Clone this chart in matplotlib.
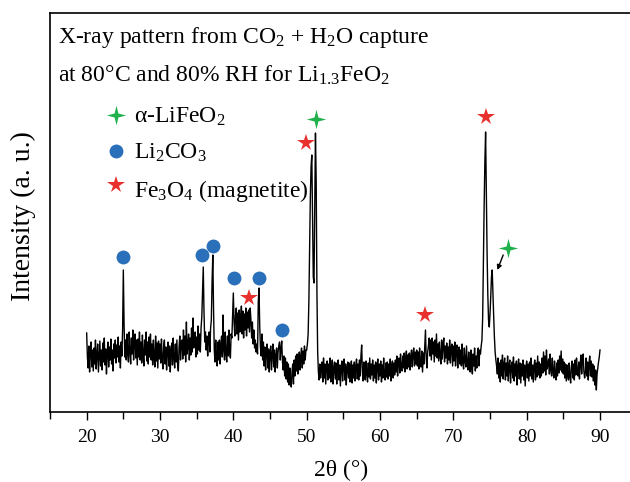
import numpy as np
import matplotlib
matplotlib.use("Agg")
import matplotlib.pyplot as plt
from matplotlib.ticker import MultipleLocator

plt.rcParams['font.family'] = ['Liberation Serif', 'DejaVu Serif']
plt.rcParams['mathtext.fontset'] = 'custom'
plt.rcParams['mathtext.rm'] = 'Liberation Serif'
plt.rcParams['mathtext.it'] = 'Liberation Serif:italic'

# ---- data: intensity sampled every 0.1 deg from 20.0 to 90.0 (a.u.) ----
intensity = [
    79, 55, 44, 66, 40, 60, 70, 45, 62, 41,   # 20
    64, 48, 72, 43, 58, 68, 40, 55, 71, 46,   # 21
    62, 42, 69, 50, 74, 47, 63, 38, 60, 70,   # 22
    45, 65, 52, 73, 48, 62, 41, 68, 54, 72,   # 23
    49, 67, 55, 75, 50, 66, 44, 70, 56, 82,   # 24
    142, 88, 55, 72, 52, 78, 58, 50, 80, 60,  # 25
    48, 74, 58, 82, 52, 70, 78, 54, 72, 47,   # 26
    73, 55, 80, 52, 70, 49, 77, 58, 46, 72,   # 27
    57, 80, 51, 70, 48, 75, 55, 78, 52, 68,   # 28
    47, 72, 56, 45, 76, 51, 69, 44, 71, 53,   # 29
    68, 49, 73, 52, 43, 66, 72, 48, 65, 42,   # 30
    62, 70, 46, 66, 40, 61, 69, 47, 74, 54,   # 31
    44, 68, 50, 72, 48, 41, 65, 76, 52, 70,   # 32
    72, 53, 82, 57, 76, 50, 90, 58, 66, 78,   # 33
    52, 74, 57, 84, 60, 94, 64, 70, 80, 55,   # 34
    75, 58, 86, 62, 78, 60, 84, 95, 120, 145, # 35
    100, 70, 80, 62, 76, 56, 72, 80, 60, 84,  # 36
    92, 130, 157, 104, 62, 50, 72, 54, 46, 70, # 37
    52, 72, 48, 68, 76, 55, 97, 62, 52, 80,   # 38
    58, 50, 76, 56, 82, 60, 54, 78, 74, 96,   # 39
    119, 90, 76, 96, 104, 78, 99, 72, 102, 80, # 40
    95, 106, 78, 101, 74, 98, 82, 104, 76, 100, # 41
    84, 102, 80, 104, 92, 74, 90, 68, 82, 64,  # 42
    72, 60, 68, 58, 110, 124, 86, 64, 56, 78,  # 43
    52, 70, 46, 65, 42, 61, 68, 44, 63, 40,   # 44
    60, 66, 42, 58, 68, 45, 62, 40, 57, 64,   # 45
    44, 60, 66, 70, 52, 64, 71, 50, 42, 56,   # 46
    36, 54, 33, 50, 30, 48, 27, 44, 30, 25,   # 47
    40, 48, 28, 52, 36, 56, 41, 58, 38, 54,   # 48
    60, 42, 56, 64, 44, 61, 48, 66, 52, 62,   # 49
    62, 68, 78, 110, 160, 215, 245, 257, 195, 135,  # 50
    129, 200, 279, 230, 120, 60, 40, 32, 48, 34,    # 51
    44, 50, 30, 54, 34, 48, 28, 46, 51, 32,   # 52
    48, 34, 54, 30, 46, 52, 28, 44, 50, 33,   # 53
    49, 28, 44, 52, 32, 47, 26, 45, 51, 31,   # 54
    46, 53, 32, 48, 27, 44, 50, 34, 49, 30,   # 55
    45, 51, 29, 47, 34, 50, 31, 46, 53, 33,   # 56
    48, 32, 52, 36, 56, 67, 40, 31, 50, 36,   # 57
    32, 51, 38, 30, 49, 35, 54, 33, 48, 37,   # 58
    52, 31, 47, 34, 50, 29, 46, 53, 32, 48,   # 59
    36, 51, 30, 47, 34, 54, 37, 32, 49, 35,   # 60
    50, 33, 48, 36, 53, 31, 47, 51, 34, 49,   # 61
    37, 52, 40, 56, 36, 50, 54, 39, 58, 43,   # 62
    41, 56, 44, 59, 40, 54, 61, 43, 57, 45,   # 63
    59, 42, 56, 62, 45, 58, 64, 46, 60, 48,   # 64
    62, 46, 60, 43, 64, 49, 45, 61, 40, 59,   # 65
    48, 66, 82, 54, 44, 60, 66, 74, 56, 72,   # 66
    52, 74, 58, 70, 50, 72, 56, 78, 54, 68,   # 67
    51, 70, 56, 48, 72, 53, 67, 74, 50, 66,   # 68
    54, 69, 48, 65, 52, 72, 49, 64, 68, 46,   # 69
    66, 51, 70, 46, 63, 67, 44, 61, 65, 48,   # 70
    62, 46, 68, 49, 43, 64, 51, 45, 66, 47,   # 71
    42, 60, 46, 40, 62, 44, 38, 58, 46, 64,   # 72
    41, 56, 44, 60, 64, 46, 62, 58, 66, 72,   # 73
    95, 150, 205, 250, 280, 220, 160, 118, 92, 85,  # 74
    98, 115, 135, 142, 118, 96, 75, 60, 52, 46,     # 75
    38, 54, 34, 49, 30, 52, 36, 57, 33, 48,   # 76
    54, 32, 49, 36, 56, 31, 47, 52, 29, 46,   # 77
    50, 34, 55, 31, 48, 36, 51, 27, 46, 53,   # 78
    33, 49, 29, 48, 36, 52, 32, 47, 26, 45,   # 79
    51, 34, 48, 31, 50, 36, 54, 33, 47, 30,   # 80
    46, 52, 32, 49, 35, 56, 37, 50, 34, 48,   # 81
    36, 54, 39, 60, 41, 56, 37, 62, 43, 48,   # 82
    53, 38, 58, 42, 36, 54, 40, 34, 51, 38,   # 83
    32, 49, 36, 52, 39, 56, 42, 61, 40, 53,   # 84
    38, 50, 34, 48, 31, 47, 36, 32, 49, 35,   # 85
    29, 46, 51, 34, 48, 32, 52, 37, 54, 39,   # 86
    36, 50, 33, 48, 57, 38, 52, 58, 41, 34,   # 87
    39, 54, 36, 50, 32, 48, 56, 36, 51, 35,   # 88
    48, 31, 46, 27, 42, 22, 38, 44, 50, 55,   # 89
    62,                                       # 90
]
theta_start, theta_end = 20.0, 90.0

# phase markers (2theta, intensity)
lifeo2_x = [51.25, 77.5]
lifeo2_y = [293, 164]
li2co3_x = [24.95, 35.7, 37.2, 40.1, 43.5, 46.7]
li2co3_y = [155, 157, 166, 134, 134, 82]
fe3o4_x = [42.2, 49.85, 66.2, 74.4]
fe3o4_y = [114, 269, 97, 295]

xticks = [20, 30, 40, 50, 60, 70, 80, 90]

two_theta = np.linspace(theta_start, theta_end, len(intensity))

fig = plt.figure(figsize=(6.3, 4.82), dpi=100)
ax = fig.add_axes([50/630, (482-412)/482, 583/630, 398.7/482])

ax.plot(two_theta, intensity, color='black', lw=1.0)

green = '#20b04c'
blue = '#2a6fb9'
red = '#e8302c'
star4 = [(0, 1), (0.2, 0.2), (1, 0), (0.2, -0.2), (0, -1),
         (-0.2, -0.2), (-1, 0), (-0.2, 0.2), (0, 1)]

ax.plot(lifeo2_x, lifeo2_y, ls='none', marker=star4, ms=14, color=green, mew=0)
ax.plot(li2co3_x, li2co3_y, ls='none', marker='o', ms=10, color=blue, mew=0)
ax.plot(fe3o4_x, fe3o4_y, ls='none', marker='*', ms=13, color=red, mew=0)

ax.annotate('', xy=(76.0, 142), xytext=(76.8, 157),
            arrowprops=dict(arrowstyle='-|>', color='black', lw=1.0,
                            mutation_scale=7, shrinkA=0, shrinkB=0))

ax.set_xlim(15, 94.5)
ax.set_ylim(0, 398.7)
ax.set_xticks(xticks)
ax.xaxis.set_minor_locator(MultipleLocator(5))
ax.tick_params(axis='x', which='major', direction='out', length=6, width=1,
               labelsize=14, pad=6)
ax.tick_params(axis='x', which='minor', direction='out', length=5, width=1)
ax.set_yticks([])
for s in ax.spines.values():
    s.set_linewidth(1.2)

ax.set_xlabel('2θ (°)', fontsize=17, labelpad=10)
fig.text(23/630, 1 - 216/482, 'Intensity (a. u.)', rotation=90,
         ha='center', va='center', fontsize=20)

tfs = 17
ax.text(0.0142, 0.9255, r'X-ray pattern from CO$_2$ + H$_2$O capture',
        transform=ax.transAxes, fontsize=tfs, va='baseline', ha='left')
ax.text(0.0142, 0.8285, r'at 80°C and 80% RH for Li$_{1.3}$FeO$_2$',
        transform=ax.transAxes, fontsize=tfs, va='baseline', ha='left')

leg_mx = 0.1132
leg_tx = 0.144
ax.plot([leg_mx], [0.745], transform=ax.transAxes, marker=star4, ms=14,
        color=green, ls='none', mew=0)
ax.plot([leg_mx], [0.655], transform=ax.transAxes, marker='o', ms=10,
        color=blue, ls='none', mew=0)
ax.plot([leg_mx], [0.569], transform=ax.transAxes, marker='*', ms=13,
        color=red, ls='none', mew=0)
ax.text(leg_tx, 0.725, r'α-LiFeO$_2$', transform=ax.transAxes,
        fontsize=tfs, va='baseline')
ax.text(leg_tx, 0.6346, r'Li$_2$CO$_3$', transform=ax.transAxes,
        fontsize=tfs, va='baseline')
ax.text(leg_tx, 0.539, r'Fe$_3$O$_4$ (magnetite)', transform=ax.transAxes,
        fontsize=tfs, va='baseline')

fig.savefig('out.png', dpi=100)
